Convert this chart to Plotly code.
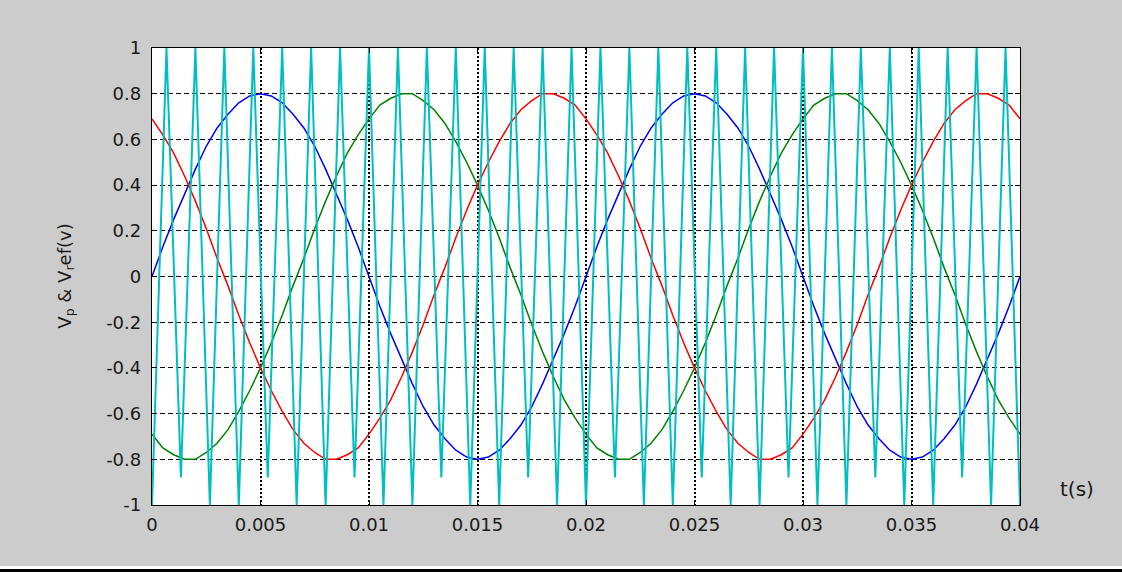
import plotly.graph_objects as go

# --- time grid for the three reference sine waves (ms) ---
t_ref_ms = [
    0.0, 0.5, 1.0, 1.5, 2.0, 2.5, 3.0, 3.5, 4.0, 4.5,
    5.0, 5.5, 6.0, 6.5, 7.0, 7.5, 8.0, 8.5, 9.0, 9.5,
    10.0, 10.5, 11.0, 11.5, 12.0, 12.5, 13.0, 13.5, 14.0, 14.5,
    15.0, 15.5, 16.0, 16.5, 17.0, 17.5, 18.0, 18.5, 19.0, 19.5,
    20.0, 20.5, 21.0, 21.5, 22.0, 22.5, 23.0, 23.5, 24.0, 24.5,
    25.0, 25.5, 26.0, 26.5, 27.0, 27.5, 28.0, 28.5, 29.0, 29.5,
    30.0, 30.5, 31.0, 31.5, 32.0, 32.5, 33.0, 33.5, 34.0, 34.5,
    35.0, 35.5, 36.0, 36.5, 37.0, 37.5, 38.0, 38.5, 39.0, 39.5,
    40.0,
]

# phase A (blue)
v_a = [
    0.00, 0.13, 0.25, 0.36, 0.47, 0.57, 0.65, 0.71, 0.76, 0.79,
    0.80, 0.79, 0.76, 0.71, 0.65, 0.57, 0.47, 0.36, 0.25, 0.13,
    0.00, -0.13, -0.25, -0.36, -0.47, -0.57, -0.65, -0.71, -0.76, -0.79,
    -0.80, -0.79, -0.76, -0.71, -0.65, -0.57, -0.47, -0.36, -0.25, -0.13,
    0.00, 0.13, 0.25, 0.36, 0.47, 0.57, 0.65, 0.71, 0.76, 0.79,
    0.80, 0.79, 0.76, 0.71, 0.65, 0.57, 0.47, 0.36, 0.25, 0.13,
    0.00, -0.13, -0.25, -0.36, -0.47, -0.57, -0.65, -0.71, -0.76, -0.79,
    -0.80, -0.79, -0.76, -0.71, -0.65, -0.57, -0.47, -0.36, -0.25, -0.13,
    0.00,
]

# phase B (red)
v_b = [
    0.69, 0.62, 0.54, 0.44, 0.33, 0.21, 0.08, -0.04, -0.17, -0.29,
    -0.40, -0.50, -0.59, -0.67, -0.73, -0.77, -0.80, -0.80, -0.78, -0.75,
    -0.69, -0.62, -0.54, -0.44, -0.33, -0.21, -0.08, 0.04, 0.17, 0.29,
    0.40, 0.50, 0.59, 0.67, 0.73, 0.77, 0.80, 0.80, 0.78, 0.75,
    0.69, 0.62, 0.54, 0.44, 0.33, 0.21, 0.08, -0.04, -0.17, -0.29,
    -0.40, -0.50, -0.59, -0.67, -0.73, -0.77, -0.80, -0.80, -0.78, -0.75,
    -0.69, -0.62, -0.54, -0.44, -0.33, -0.21, -0.08, 0.04, 0.17, 0.29,
    0.40, 0.50, 0.59, 0.67, 0.73, 0.77, 0.80, 0.80, 0.78, 0.75,
    0.69,
]

# phase C (green)
v_c = [
    -0.69, -0.75, -0.78, -0.80, -0.80, -0.77, -0.73, -0.67, -0.59, -0.50,
    -0.40, -0.29, -0.17, -0.04, 0.08, 0.21, 0.33, 0.44, 0.54, 0.62,
    0.69, 0.75, 0.78, 0.80, 0.80, 0.77, 0.73, 0.67, 0.59, 0.50,
    0.40, 0.29, 0.17, 0.04, -0.08, -0.21, -0.33, -0.44, -0.54, -0.62,
    -0.69, -0.75, -0.78, -0.80, -0.80, -0.77, -0.73, -0.67, -0.59, -0.50,
    -0.40, -0.29, -0.17, -0.04, 0.08, 0.21, 0.33, 0.44, 0.54, 0.62,
    0.69, 0.75, 0.78, 0.80, 0.80, 0.77, 0.73, 0.67, 0.59, 0.50,
    0.40, 0.29, 0.17, 0.04, -0.08, -0.21, -0.33, -0.44, -0.54, -0.62,
    -0.69,
]

# --- triangular carrier: vertex times (ms) and levels ---
carrier_t_ms = [
    0.0, 0.667, 1.333, 2.0, 2.667, 3.333, 4.0, 4.667, 5.333, 6.0,
    6.667, 7.333, 8.0, 8.667, 9.333, 10.0, 10.667, 11.333, 12.0, 12.667,
    13.333, 14.0, 14.667, 15.333, 16.0, 16.667, 17.333, 18.0, 18.667, 19.333,
    20.0, 20.667, 21.333, 22.0, 22.667, 23.333, 24.0, 24.667, 25.333, 26.0,
    26.667, 27.333, 28.0, 28.667, 29.333, 30.0, 30.667, 31.333, 32.0, 32.667,
    33.333, 34.0, 34.667, 35.333, 36.0, 36.667, 37.333, 38.0, 38.667, 39.333,
    40.0,
]
carrier_v = [
    -1, 1, -0.88, 1, -1, 1, -1, 1, -0.88, 1,
    -1, 1, -1, 1, -0.88, 1, -1, 1, -1, 1,
    -0.88, 1, -1, 1, -1, 1, -0.88, 1, -1, 1,
    -1, 1, -0.88, 1, -1, 1, -1, 1, -0.88, 1,
    -1, 1, -1, 1, -0.88, 1, -1, 1, -1, 1,
    -0.88, 1, -1, 1, -1, 1, -0.88, 1, -1, 1,
    -1,
]

# --- axis ticks ---
x_tickvals = [0, 0.005, 0.01, 0.015, 0.02, 0.025, 0.03, 0.035, 0.04]
x_ticktext = ["0", "0.005", "0.01", "0.015", "0.02", "0.025", "0.03", "0.035", "0.04"]
y_tickvals = [1, 0.8, 0.6, 0.4, 0.2, 0, -0.2, -0.4, -0.6, -0.8, -1]
y_ticktext = ["1", "0.8", "0.6", "0.4", "0.2", "0", "-0.2", "-0.4", "-0.6", "-0.8", "-1"]

t_ref = [v / 1000 for v in t_ref_ms]
t_car = [v / 1000 for v in carrier_t_ms]

fig = go.Figure()
fig.add_trace(go.Scatter(x=t_ref, y=v_a, mode="lines",
                         line=dict(color="#0000ff", width=1.5)))
fig.add_trace(go.Scatter(x=t_ref, y=v_c, mode="lines",
                         line=dict(color="#008000", width=1.5)))
fig.add_trace(go.Scatter(x=t_ref, y=v_b, mode="lines",
                         line=dict(color="#ff0000", width=1.5)))
fig.add_trace(go.Scatter(x=t_car, y=carrier_v, mode="lines",
                         line=dict(color="#00bfbf", width=2)))

tick_font = dict(family="DejaVu Sans", size=18, color="#1a1a1a")

fig.update_layout(
    width=1122, height=572,
    margin=dict(l=152, r=102, t=48, b=67, pad=0),
    paper_bgcolor="#cccccc",
    plot_bgcolor="#ffffff",
    showlegend=False,
    xaxis=dict(
        range=[0, 0.04], tickvals=x_tickvals, ticktext=x_ticktext,
        ticks="inside", ticklen=5, tickcolor="black",
        showline=True, linecolor="black", linewidth=1.3, mirror="ticks",
        showgrid=True, gridcolor="black", gridwidth=2, griddash="2px,2px",
        zeroline=False, tickfont=tick_font, ticklabelstandoff=3,
    ),
    yaxis=dict(
        range=[-1, 1], tickvals=y_tickvals, ticktext=y_ticktext,
        ticks="inside", ticklen=5, tickcolor="black",
        showline=True, linecolor="black", linewidth=1.3, mirror="ticks",
        showgrid=True, gridcolor="black", gridwidth=1.2, griddash="5px,3px",
        zeroline=False, tickfont=tick_font, ticklabelstandoff=6,
    ),
    annotations=[
        dict(text="V<sub>p</sub> &amp; V<sub>r</sub>ef(v)", textangle=-90,
             xref="paper", yref="paper", x=-0.100, y=0.50,
             xanchor="center", yanchor="middle", showarrow=False,
             font=dict(family="DejaVu Sans", size=18, color="#1a1a1a")),
        dict(text="t(s)", xref="paper", yref="paper", x=1.066, y=0.035,
             xanchor="center", yanchor="middle", showarrow=False,
             font=dict(family="DejaVu Sans", size=20, color="#1a1a1a")),
    ],
    shapes=[
        # white strip and dark rule along the bottom edge of the window
        dict(type="rect", xref="paper", yref="paper",
             x0=-0.1751, x1=1.1175, y0=-0.1466, y1=-0.1335,
             fillcolor="#ffffff", line=dict(width=0), layer="above"),
        dict(type="rect", xref="paper", yref="paper",
             x0=-0.1751, x1=1.1175, y0=-0.1466, y1=-0.1400,
             fillcolor="#000000", line=dict(width=0), layer="above"),
    ],
)

fig.write_html("out.html")
